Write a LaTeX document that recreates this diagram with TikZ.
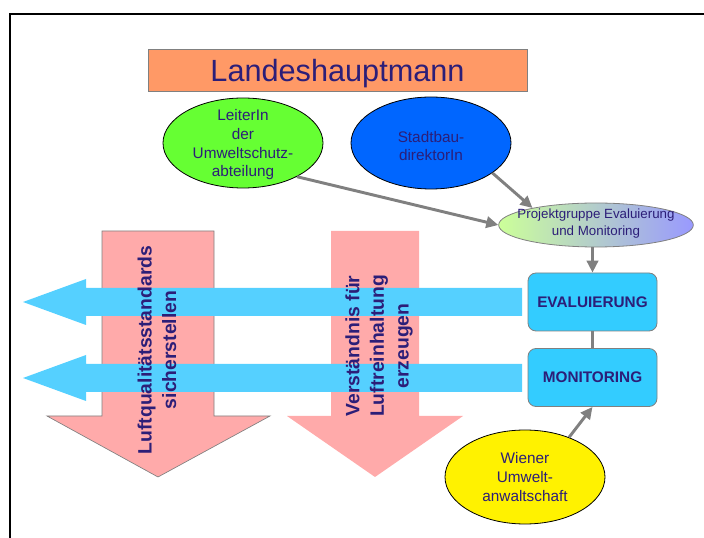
\documentclass[tikz,border=0pt]{standalone}
\usepackage{fontspec}
\setmainfont{Liberation Sans}
\usetikzlibrary{shapes.geometric,arrows.meta}
\definecolor{navytext}{RGB}{44,30,120}
\definecolor{lhorange}{RGB}{255,153,102}
\definecolor{leafgreen}{RGB}{102,255,51}
\definecolor{deepblue}{RGB}{0,102,255}
\definecolor{paleyellow}{RGB}{204,255,153}
\definecolor{lavender}{RGB}{153,153,255}
\definecolor{skycyan}{RGB}{51,204,255}
\definecolor{bandcyan}{RGB}{85,208,255}
\definecolor{rosepink}{RGB}{255,170,170}
\definecolor{linkgray}{RGB}{128,128,128}
\tikzset{
  ell/.style={ellipse, draw=black, line width=0.6pt, inner sep=0pt},
  ellitext/.style={align=center, text=navytext, font=\fontsize{11.5}{14}\selectfont, inner sep=0pt},
  taskbox/.style={draw=linkgray, fill=skycyan, rounded corners=6pt, minimum width=96.75pt, minimum height=43.5pt, text=navytext, font=\fontsize{11.5}{14}\selectfont\bfseries, line width=0.6pt},
  link/.style={draw=linkgray, line width=2.2pt, -{Triangle[length=9pt,width=8.5pt]}},
  pinkarrow/.style={fill=rosepink},
  cyanarrow/.style={fill=bandcyan},
  rottext/.style={rotate=90, align=center, text=navytext, font=\fontsize{14.5}{18.5}\selectfont\bfseries}
}
\begin{document}
\begin{tikzpicture}[x=0.75pt,y=-0.75pt]
\useasboundingbox (0,0) rectangle (704,538);
% frame
\draw[line width=1.2pt] (10,538) -- (10,14) -- (704,14);

% pink down arrows
\draw[pinkarrow, draw=linkgray, line width=0.5pt] (102,231) -- (214,231) -- (214,416) -- (270,416) -- (158,477) -- (47,416) -- (102,416) -- cycle;
\fill[pinkarrow] (331,231) -- (419,231) -- (419,416) -- (463,416) -- (375,477) -- (287,416) -- (331,416) -- cycle;

% cyan left arrows
\fill[cyanarrow] (522,288) -- (86,288) -- (86,279) -- (23,302) -- (86,325) -- (86,316) -- (522,316) -- cycle;
\fill[cyanarrow] (522,364) -- (86,364) -- (86,355) -- (23,378) -- (86,401) -- (86,392) -- (522,392) -- cycle;

\node[rottext] (quality) at (157,350) {Luftqualitätsstandards\\sicherstellen};
\node[rottext] (awareness) at (379,346) {Verständnis für\\Luftreinhaltung\\erzeugen};

% top box
\node[draw=linkgray, fill=lhorange, minimum width=284pt, minimum height=31.5pt, text depth=0pt, text=navytext, font=\fontsize{23}{26}\selectfont] (lh) at (337.5,70) {Landeshauptmann};

% ellipses
\node[ell, fill=leafgreen, minimum width=120pt, minimum height=67.5pt] (leiter) at (243,143) {};
\node[ellitext] (leitertxt) at (243,145) {LeiterIn\\der\\Umweltschutz-\\abteilung};
\node[ell, fill=deepblue, minimum width=120pt, minimum height=69pt] (stadt) at (431,143) {};
\node[ellitext] (stadttxt) at (431,146) {Stadtbau-\\direktorIn};
\node[ell, draw=linkgray, left color=paleyellow, right color=lavender, minimum width=146pt, minimum height=33pt] (projekt) at (596,225) {};
\node[ellitext, font=\fontsize{10}{12.75}\selectfont] (projekttxt) at (596,224) {Projektgruppe Evaluierung\\und Monitoring};

\node[taskbox] (eval) at (592.5,302) {EVALUIERUNG};
\node[taskbox] (monit) at (592.5,377.5) {MONITORING};

\node[ell, fill=yellow, minimum width=120pt, minimum height=70.5pt] (wiener) at (525,477) {};
\node[ellitext] (wienertxt) at (525,477) {Wiener\\Umwelt-\\anwaltschaft};

% connectors
\draw[link] (leiter.-32) -- (projekt.west);
\draw[link] (stadt.-26) -- (projekt.165);
\draw[link] (eval.north |- projekt.south) -- (eval.north);
\draw[draw=linkgray, line width=2.2pt] (eval.south) -- (monit.north);
\draw[link] (wiener.42) -- (monit.south);

\end{tikzpicture}
\end{document}
